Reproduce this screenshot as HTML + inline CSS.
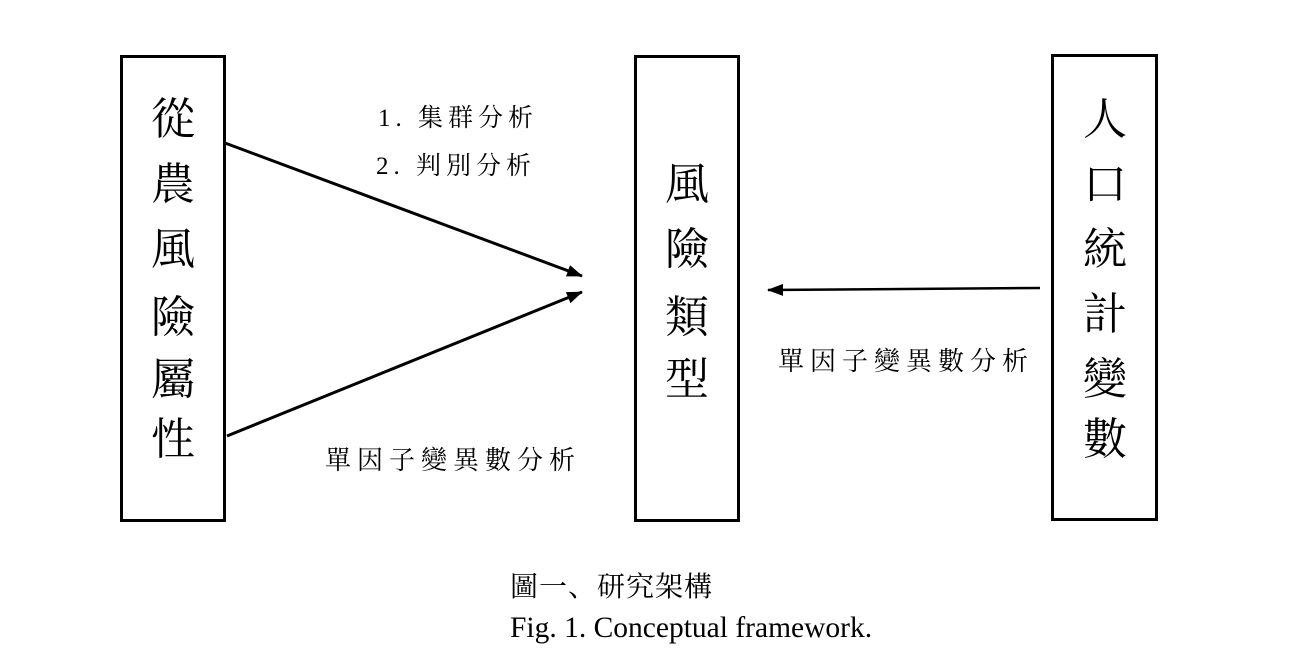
<!DOCTYPE html>
<html><head><meta charset="utf-8"><style>
html,body{margin:0;padding:0;background:#fff;}
body{width:1314px;height:666px;position:relative;overflow:hidden;font-family:"Liberation Serif","Noto Serif CJK SC",serif;color:#000;}
.box{position:absolute;border:3px solid #000;box-sizing:border-box;}
.c{position:absolute;font-size:44px;line-height:44px;width:60px;text-align:center;}
.t{position:absolute;white-space:nowrap;}
</style></head><body>
<div class="box" style="left:120px;top:55px;width:106px;height:467px"></div>
<div class="box" style="left:634px;top:55px;width:106px;height:467px"></div>
<div class="box" style="left:1051px;top:54px;width:107px;height:467px"></div>

<div class="c" style="left:143px;top:98px">從</div>
<div class="c" style="left:143px;top:163px">農</div>
<div class="c" style="left:143px;top:228px">風</div>
<div class="c" style="left:143px;top:296px">險</div>
<div class="c" style="left:143px;top:358px">屬</div>
<div class="c" style="left:143px;top:418px">性</div>

<div class="c" style="left:657px;top:163px">風</div>
<div class="c" style="left:657px;top:228px">險</div>
<div class="c" style="left:657px;top:296px">類</div>
<div class="c" style="left:657px;top:358px">型</div>

<div class="c" style="left:1075px;top:98px">人</div>
<div class="c" style="left:1075px;top:163px">口</div>
<div class="c" style="left:1075px;top:228px">統</div>
<div class="c" style="left:1075px;top:293px">計</div>
<div class="c" style="left:1075px;top:358px">變</div>
<div class="c" style="left:1075px;top:418px">數</div>

<svg width="1314" height="666" style="position:absolute;left:0;top:0">
<defs>
<marker id="b" markerWidth="16" markerHeight="12" refX="15" refY="6" orient="auto" markerUnits="userSpaceOnUse"><path d="M0,0 L16,6 L0,12 z" fill="#000"/></marker></defs>
<line x1="225" y1="143" x2="582" y2="276" stroke="#000" stroke-width="3" marker-end="url(#b)"/>
<line x1="227" y1="436" x2="582" y2="292" stroke="#000" stroke-width="3" marker-end="url(#b)"/>
<line x1="1040" y1="288" x2="768" y2="290" stroke="#000" stroke-width="2.5" marker-end="url(#b)"/>
</svg>

<div class="t" style="left:378px;top:98px;font-size:25px;letter-spacing:5px">1. 集群分析</div>
<div class="t" style="left:376px;top:146px;font-size:25px;letter-spacing:5px">2. 判別分析</div>
<div class="t" style="left:325px;top:440px;font-size:26px;letter-spacing:6px">單因子變異數分析</div>
<div class="t" style="left:778px;top:341px;font-size:26px;letter-spacing:6px">單因子變異數分析</div>
<div class="t" style="left:510px;top:565px;font-size:28px;letter-spacing:1px">圖一、研究架構</div>
<div class="t" style="left:510px;top:612px;font-size:29.5px">Fig. 1. Conceptual framework.</div>
</body></html>
